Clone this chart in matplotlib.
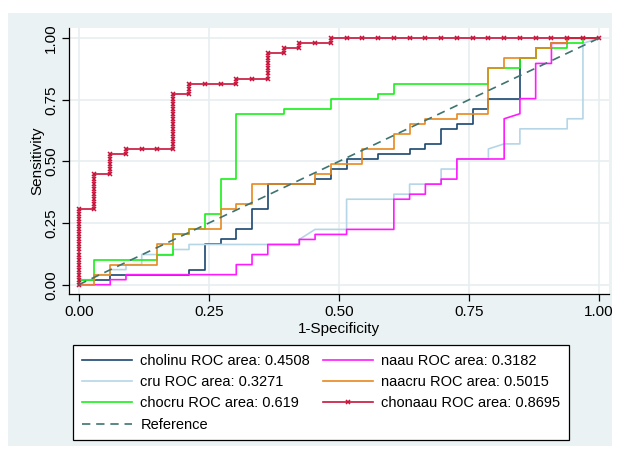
import matplotlib
matplotlib.use("Agg")
import matplotlib.pyplot as plt
from matplotlib.patches import Rectangle
import numpy as np

plt.rcParams['font.family'] = ['Liberation Sans', 'DejaVu Sans']

# 33 negatives, 49 positives; ROC vertices as (false pos count, true pos count)
N_NEG = 33
N_POS = 49

cholinu_fp = [0, 0, 2, 2, 7, 7, 8, 8, 9, 9, 10, 10, 11, 11, 12, 12, 15, 15, 16, 16, 17, 17,
              19, 19, 21, 21, 22, 22, 23, 23, 24, 24, 25, 25, 26, 26, 28, 28, 29, 29, 30, 30, 31, 31, 33]
cholinu_tp = [0, 1, 1, 2, 2, 3, 3, 8, 8, 9, 9, 11, 11, 15, 15, 20, 20, 21, 21, 23, 23, 25,
              25, 26, 26, 27, 27, 28, 28, 31, 31, 32, 32, 35, 35, 37, 37, 45, 45, 47, 47, 48, 48, 49, 49]

cru_fp = [0, 0, 1, 1, 2, 2, 3, 3, 4, 4, 6, 6, 7, 7, 14, 14, 15, 17, 17, 20, 20, 21, 21, 23, 23,
          24, 24, 26, 26, 27, 28, 28, 31, 31, 32, 32, 33]
cru_tp = [0, 1, 1, 2, 2, 3, 3, 4, 4, 6, 6, 7, 7, 8, 8, 9, 11, 11, 17, 17, 18, 18, 20, 20, 23,
          23, 25, 25, 27, 28, 28, 31, 31, 33, 33, 48, 49]

chocru_fp = [0, 0, 1, 1, 5, 5, 6, 6, 7, 7, 8, 8, 9, 9, 10, 10, 13, 13, 16, 16, 19, 19, 20, 20,
             26, 26, 28, 28, 29, 29, 31, 31, 32, 32, 33]
chocru_tp = [0, 1, 1, 5, 5, 6, 6, 10, 10, 11, 11, 14, 14, 21, 21, 34, 34, 35, 35, 37, 37, 38, 38, 40,
             40, 43, 43, 45, 45, 47, 47, 48, 48, 49, 49]

naau_fp = [0, 2, 2, 3, 3, 10, 10, 11, 11, 12, 12, 14, 14, 15, 15, 17, 17, 20, 20, 21, 21, 22, 22,
           23, 23, 24, 24, 27, 27, 28, 28, 29, 29, 30, 30, 31, 31, 33]
naau_tp = [0, 0, 1, 1, 2, 2, 4, 4, 6, 6, 8, 8, 9, 9, 10, 10, 11, 11, 17, 17, 18, 18, 20,
           20, 21, 21, 25, 25, 33, 34, 37, 37, 44, 44, 48, 48, 49, 49]

naacru_fp = [0, 1, 1, 2, 2, 5, 5, 6, 6, 7, 7, 9, 9, 10, 10, 11, 11, 15, 15, 16, 16, 17, 17, 18, 18,
             20, 20, 21, 21, 22, 22, 24, 24, 26, 26, 27, 27, 29, 29, 30, 30, 31, 31, 33]
naacru_tp = [0, 0, 2, 2, 4, 4, 8, 8, 10, 10, 11, 11, 15, 15, 16, 16, 20, 20, 22, 22, 24, 24, 24, 24, 27,
             27, 30, 30, 32, 32, 33, 33, 34, 34, 43, 43, 45, 45, 47, 47, 48, 48, 49, 49]

# chonaau: outcome order by descending score (1 = positive, 0 = negative), one marker per cutoff
chonaau_order = ("111111111111111" "0" "1111111" "0" "1111" "0" "1" "000" "11111111111" "0" "11"
                 "000" "1" "00" "11111" "0" "1" "0" "1" "00" "1" "00000000000000000")

labels = ["cholinu ROC area: 0.4508", "cru ROC area: 0.3271", "chocru ROC area: 0.619",
          "naau ROC area: 0.3182", "naacru ROC area: 0.5015", "chonaau ROC area: 0.8695",
          "Reference"]
colors = ["#1a476f", "#b5d6e6", "#19f019", "#ff1aff", "#e8891d", "#c8133a", "#3e7470"]
ticks = [0, 0.25, 0.5, 0.75, 1.0]
tick_labels = ["0.00", "0.25", "0.50", "0.75", "1.00"]

W, H = 619, 451
fig = plt.figure(figsize=(W / 100, H / 100), dpi=100)
fig.patch.set_facecolor("white")
fig.patches.append(Rectangle((8 / W, 1 - 446 / H), (612 - 8) / W, (446 - 13) / H,
                             transform=fig.transFigure, facecolor="#eaf2f3",
                             edgecolor="none", zorder=-5))

ax = fig.add_axes([69 / W, 1 - 294 / H, (609 - 69) / W, (294 - 28) / H])
ax.set_facecolor("white")

series = [(cholinu_fp, cholinu_tp), (cru_fp, cru_tp), (chocru_fp, chocru_tp),
          (naau_fp, naau_tp), (naacru_fp, naacru_tp)]
handles = []
for (fp, tp), c, lab in zip(series, colors[:5], labels[:5]):
    h, = ax.plot(np.array(fp) / N_NEG, np.array(tp) / N_POS, color=c, lw=1.2, label=lab)
    handles.append(h)

steps = np.array([int(ch) for ch in chonaau_order])
cfp = np.concatenate([[0], np.cumsum(1 - steps)]) / N_NEG
ctp = np.concatenate([[0], np.cumsum(steps)]) / N_POS
h, = ax.plot(cfp, ctp, color=colors[5], lw=1.2, marker="x", ms=3.2, mew=1.1, label=labels[5])
handles.append(h)

h, = ax.plot([0, 1], [0, 1], color=colors[6], lw=1.2, ls=(0, (5, 3.5)), label=labels[6])
handles.append(h)

ax.set_xlim(-9.7 / 520, 1 + 10.3 / 520)
ax.set_ylim(-9.3 / 246.4, 1 + 10.3 / 246.4)
ax.set_xticks(ticks)
ax.set_xticklabels(tick_labels)
ax.set_yticks(ticks)
ax.set_yticklabels(tick_labels, rotation=90, va="center")
ax.tick_params(direction="out", length=5, width=0.9, labelsize=11, pad=3)
ax.grid(color="#e6eef0", lw=1.1)
ax.set_axisbelow(True)
for s in ["top", "right"]:
    ax.spines[s].set_visible(False)
for s in ["left", "bottom"]:
    ax.spines[s].set_color("black")
    ax.spines[s].set_linewidth(0.9)
ax.set_xlabel("1-Specificity", fontsize=11, labelpad=2)
ax.set_ylabel("Sensitivity", fontsize=11, labelpad=0)

# legend fills column-wise, reorder to match row-wise layout
order = [0, 1, 2, 6, 3, 4, 5]
leg = fig.legend([handles[i] for i in order], [labels[i] for i in order], ncol=2,
                 loc="upper left", bbox_to_anchor=(73 / W, 1 - 345 / H, (569 - 73) / W, 0),
                 mode="expand", fontsize=10.5, frameon=True, fancybox=False, framealpha=1,
                 edgecolor="black", handlelength=3.45, handletextpad=0.57,
                 borderaxespad=0, labelspacing=0.5, borderpad=0.6, columnspacing=1.0)
leg.get_frame().set_linewidth(0.9)

fig.savefig("out.png", dpi=100)
